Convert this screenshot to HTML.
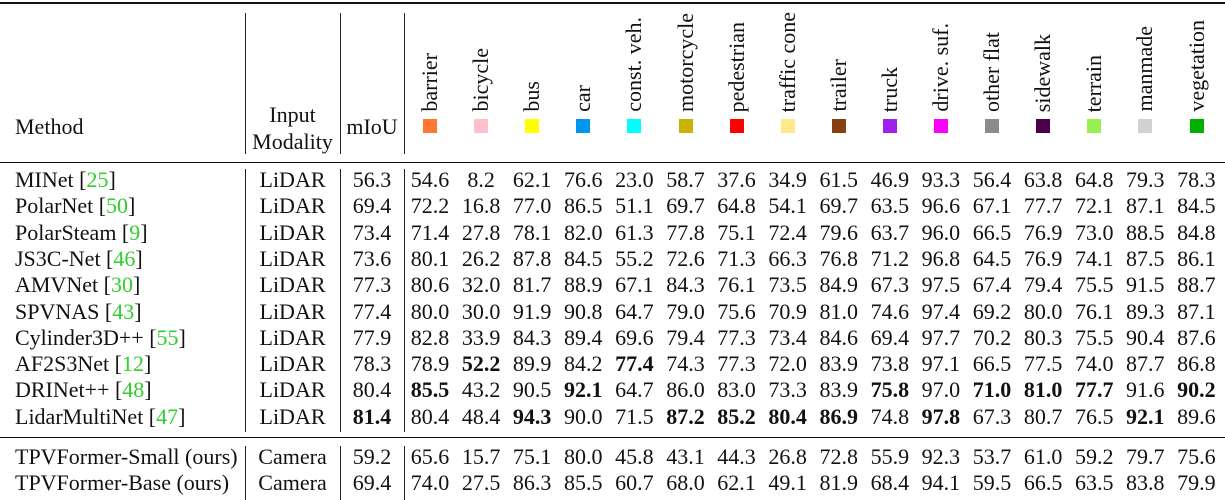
<!DOCTYPE html>
<html><head><meta charset="utf-8"><style>
body{margin:0;background:#fff;}
#c{position:relative;width:1225px;height:500px;overflow:hidden;background:#fff;font-family:"Liberation Serif","Times New Roman",serif;font-size:22px;color:#111;}
.a{position:absolute;white-space:nowrap;}
.hl{position:absolute;left:0;width:1225px;background:#111;}
.vl{position:absolute;width:1.3px;background:#222;}
.row{position:absolute;left:0;height:26px;line-height:26px;width:1225px;white-space:nowrap;}
.m{position:absolute;left:15px;}
.i{position:absolute;left:245px;width:95px;text-align:center;}
.u{position:absolute;left:340px;width:64px;text-align:center;}
.v{position:absolute;left:404.45px;display:flex;}
.v span{width:51.1px;text-align:center;display:block;}
b{font-weight:bold;}
.g{color:#2ecf2e;}
.lab{position:absolute;bottom:388px;width:24px;line-height:24px;writing-mode:vertical-rl;transform:rotate(180deg);white-space:nowrap;}
.sq{position:absolute;top:119px;width:14px;height:14px;}
</style></head><body><div id="c">
<div class="hl" style="top:1.5px;height:2.5px"></div>
<div class="hl" style="top:161.5px;height:1.3px"></div>
<div class="hl" style="top:436.5px;height:1.3px"></div>
<div class="vl" style="left:245px;top:13px;height:141px"></div>
<div class="vl" style="left:340px;top:13px;height:141px"></div>
<div class="vl" style="left:404px;top:13px;height:141px"></div>
<div class="vl" style="left:245px;top:169px;height:263px"></div>
<div class="vl" style="left:340px;top:169px;height:263px"></div>
<div class="vl" style="left:404px;top:169px;height:263px"></div>
<div class="vl" style="left:245px;top:446px;height:54px"></div>
<div class="vl" style="left:340px;top:446px;height:54px"></div>
<div class="vl" style="left:404px;top:446px;height:54px"></div>

<div class="a" style="left:15px;top:114px;line-height:26px">Method</div>
<div class="a" style="left:245px;width:95px;text-align:center;top:101px;line-height:27px">Input<br>Modality</div>
<div class="a" style="left:340px;width:64px;text-align:center;top:114px;line-height:26px">mIoU</div>

<div class="lab" style="left:418px">barrier</div>
<div class="lab" style="left:469.1px">bicycle</div>
<div class="lab" style="left:520.2px">bus</div>
<div class="lab" style="left:571.3px">car</div>
<div class="lab" style="left:622.4px">const. veh.</div>
<div class="lab" style="left:673.5px">motorcycle</div>
<div class="lab" style="left:724.6px">pedestrian</div>
<div class="lab" style="left:775.7px">traffic cone</div>
<div class="lab" style="left:826.8px">trailer</div>
<div class="lab" style="left:877.9px">truck</div>
<div class="lab" style="left:929px">drive. suf.</div>
<div class="lab" style="left:980.1px">other flat</div>
<div class="lab" style="left:1031.2px">sidewalk</div>
<div class="lab" style="left:1082.3px">terrain</div>
<div class="lab" style="left:1133.4px">manmade</div>
<div class="lab" style="left:1184.5px">vegetation</div>

<div class="sq" style="left:423px;background:#ff7832"></div>
<div class="sq" style="left:474.1px;background:#ffc0cb"></div>
<div class="sq" style="left:525.2px;background:#ffff00"></div>
<div class="sq" style="left:576.3px;background:#0096f0"></div>
<div class="sq" style="left:627.4px;background:#00ffff"></div>
<div class="sq" style="left:678.5px;background:#c8b400"></div>
<div class="sq" style="left:729.6px;background:#ff0000"></div>
<div class="sq" style="left:780.7px;background:#ffe98c"></div>
<div class="sq" style="left:831.8px;background:#87400f"></div>
<div class="sq" style="left:882.9px;background:#a020f0"></div>
<div class="sq" style="left:934px;background:#ff00ff"></div>
<div class="sq" style="left:985.1px;background:#8c8c8c"></div>
<div class="sq" style="left:1036.2px;background:#4b004b"></div>
<div class="sq" style="left:1087.3px;background:#96f050"></div>
<div class="sq" style="left:1138.4px;background:#d2d2d2"></div>
<div class="sq" style="left:1189.5px;background:#00af00"></div>

<div class="row" style="top:167px"><span class="m">MINet [<span class="g">25</span>]</span><span class="i">LiDAR</span><span class="u">56.3</span><div class="v"><span>54.6</span><span>8.2</span><span>62.1</span><span>76.6</span><span>23.0</span><span>58.7</span><span>37.6</span><span>34.9</span><span>61.5</span><span>46.9</span><span>93.3</span><span>56.4</span><span>63.8</span><span>64.8</span><span>79.3</span><span>78.3</span></div></div>
<div class="row" style="top:193.3px"><span class="m">PolarNet [<span class="g">50</span>]</span><span class="i">LiDAR</span><span class="u">69.4</span><div class="v"><span>72.2</span><span>16.8</span><span>77.0</span><span>86.5</span><span>51.1</span><span>69.7</span><span>64.8</span><span>54.1</span><span>69.7</span><span>63.5</span><span>96.6</span><span>67.1</span><span>77.7</span><span>72.1</span><span>87.1</span><span>84.5</span></div></div>
<div class="row" style="top:219.6px"><span class="m">PolarSteam [<span class="g">9</span>]</span><span class="i">LiDAR</span><span class="u">73.4</span><div class="v"><span>71.4</span><span>27.8</span><span>78.1</span><span>82.0</span><span>61.3</span><span>77.8</span><span>75.1</span><span>72.4</span><span>79.6</span><span>63.7</span><span>96.0</span><span>66.5</span><span>76.9</span><span>73.0</span><span>88.5</span><span>84.8</span></div></div>
<div class="row" style="top:245.9px"><span class="m">JS3C-Net [<span class="g">46</span>]</span><span class="i">LiDAR</span><span class="u">73.6</span><div class="v"><span>80.1</span><span>26.2</span><span>87.8</span><span>84.5</span><span>55.2</span><span>72.6</span><span>71.3</span><span>66.3</span><span>76.8</span><span>71.2</span><span>96.8</span><span>64.5</span><span>76.9</span><span>74.1</span><span>87.5</span><span>86.1</span></div></div>
<div class="row" style="top:272.2px"><span class="m">AMVNet [<span class="g">30</span>]</span><span class="i">LiDAR</span><span class="u">77.3</span><div class="v"><span>80.6</span><span>32.0</span><span>81.7</span><span>88.9</span><span>67.1</span><span>84.3</span><span>76.1</span><span>73.5</span><span>84.9</span><span>67.3</span><span>97.5</span><span>67.4</span><span>79.4</span><span>75.5</span><span>91.5</span><span>88.7</span></div></div>
<div class="row" style="top:298.5px"><span class="m">SPVNAS [<span class="g">43</span>]</span><span class="i">LiDAR</span><span class="u">77.4</span><div class="v"><span>80.0</span><span>30.0</span><span>91.9</span><span>90.8</span><span>64.7</span><span>79.0</span><span>75.6</span><span>70.9</span><span>81.0</span><span>74.6</span><span>97.4</span><span>69.2</span><span>80.0</span><span>76.1</span><span>89.3</span><span>87.1</span></div></div>
<div class="row" style="top:324.8px"><span class="m">Cylinder3D++ [<span class="g">55</span>]</span><span class="i">LiDAR</span><span class="u">77.9</span><div class="v"><span>82.8</span><span>33.9</span><span>84.3</span><span>89.4</span><span>69.6</span><span>79.4</span><span>77.3</span><span>73.4</span><span>84.6</span><span>69.4</span><span>97.7</span><span>70.2</span><span>80.3</span><span>75.5</span><span>90.4</span><span>87.6</span></div></div>
<div class="row" style="top:351.1px"><span class="m">AF2S3Net [<span class="g">12</span>]</span><span class="i">LiDAR</span><span class="u">78.3</span><div class="v"><span>78.9</span><span><b>52.2</b></span><span>89.9</span><span>84.2</span><span><b>77.4</b></span><span>74.3</span><span>77.3</span><span>72.0</span><span>83.9</span><span>73.8</span><span>97.1</span><span>66.5</span><span>77.5</span><span>74.0</span><span>87.7</span><span>86.8</span></div></div>
<div class="row" style="top:377.4px"><span class="m">DRINet++ [<span class="g">48</span>]</span><span class="i">LiDAR</span><span class="u">80.4</span><div class="v"><span><b>85.5</b></span><span>43.2</span><span>90.5</span><span><b>92.1</b></span><span>64.7</span><span>86.0</span><span>83.0</span><span>73.3</span><span>83.9</span><span><b>75.8</b></span><span>97.0</span><span><b>71.0</b></span><span><b>81.0</b></span><span><b>77.7</b></span><span>91.6</span><span><b>90.2</b></span></div></div>
<div class="row" style="top:403.7px"><span class="m">LidarMultiNet [<span class="g">47</span>]</span><span class="i">LiDAR</span><span class="u"><b>81.4</b></span><div class="v"><span>80.4</span><span>48.4</span><span><b>94.3</b></span><span>90.0</span><span>71.5</span><span><b>87.2</b></span><span><b>85.2</b></span><span><b>80.4</b></span><span><b>86.9</b></span><span>74.8</span><span><b>97.8</b></span><span>67.3</span><span>80.7</span><span>76.5</span><span><b>92.1</b></span><span>89.6</span></div></div>
<div class="row" style="top:444px"><span class="m">TPVFormer-Small (ours)</span><span class="i">Camera</span><span class="u">59.2</span><div class="v"><span>65.6</span><span>15.7</span><span>75.1</span><span>80.0</span><span>45.8</span><span>43.1</span><span>44.3</span><span>26.8</span><span>72.8</span><span>55.9</span><span>92.3</span><span>53.7</span><span>61.0</span><span>59.2</span><span>79.7</span><span>75.6</span></div></div>
<div class="row" style="top:470px"><span class="m">TPVFormer-Base (ours)</span><span class="i">Camera</span><span class="u">69.4</span><div class="v"><span>74.0</span><span>27.5</span><span>86.3</span><span>85.5</span><span>60.7</span><span>68.0</span><span>62.1</span><span>49.1</span><span>81.9</span><span>68.4</span><span>94.1</span><span>59.5</span><span>66.5</span><span>63.5</span><span>83.8</span><span>79.9</span></div></div>
</div></body></html>
